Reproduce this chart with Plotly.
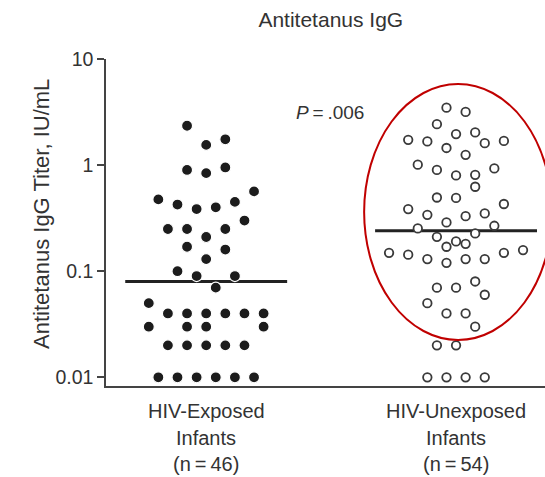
import numpy as np
import plotly.graph_objects as go

# Antitetanus IgG titers (IU/mL) per infant
exposed_titer = [2.35, 1.75, 1.55, 0.95, 0.90, 0.84, 0.565, 0.475, 0.45, 0.425,
                 0.40, 0.385, 0.30, 0.25, 0.25, 0.25, 0.21, 0.17, 0.16, 0.13,
                 0.10, 0.09, 0.09, 0.07, 0.05,
                 0.04, 0.04, 0.04, 0.04, 0.04, 0.04,
                 0.03, 0.03, 0.03, 0.03,
                 0.02, 0.02, 0.02, 0.02, 0.02,
                 0.01, 0.01, 0.01, 0.01, 0.01, 0.01]
unexposed_titer = [3.48, 3.17, 2.43, 2.03, 1.96, 1.73, 1.69, 1.67, 1.61, 1.45,
                   1.25, 1.01, 0.93, 0.90, 0.81, 0.80, 0.625, 0.495, 0.49, 0.43,
                   0.385, 0.35, 0.34, 0.33, 0.288, 0.268, 0.253, 0.227, 0.211, 0.191,
                   0.181, 0.170, 0.158, 0.149, 0.149, 0.143, 0.130, 0.130, 0.130, 0.120,
                   0.080, 0.070, 0.070, 0.060, 0.050, 0.040, 0.040, 0.030,
                   0.020, 0.020,
                   0.010, 0.010, 0.010, 0.010]

# swarm column of each dot (in half-dot steps from the group centre)
exposed_slot = [-2, 2, 0, 2, -2, 0, 5, -5, 3, -3,
                1, -1, 4, -4, -2, 2, 0, -2, 2, 0,
                -3, -1, 3, 1, -6,
                -4, -2, 0, 2, 4, 6,
                -6, -2, 0, 6,
                -4, -2, 0, 2, 4,
                -5, -3, -1, 1, 3, 5]
unexposed_slot = [-1, 1, -2, 2, 0, -5, 5, -3, 3, -1,
                  1, -4, 4, -2, 2, 0, 2, -2, 0, 5,
                  -5, 3, -3, 1, -1, 4, -4, 2, -2, 0,
                  1, -1, 7, -7, 5, -5, -3, 1, 3, -1,
                  2, -2, 0, 3, -3, -1, 1, 2,
                  -2, 0,
                  -3, -1, 1, 3]

group_names = ["HIV-Exposed", "HIV-Unexposed"]
group_sub = ["Infants", "Infants"]
group_n = [46, 54]
y_ticks = [0.01, 0.1, 1, 10]
y_tick_text = ["0.01", "0.1", "1", "10"]
p_value = ".006"

SLOT = 0.0383      # horizontal swarm step (data units)
HALF = 0.324       # half-width of the median bar
INK = "#222222"
TXT = "#333333"
FONT = "Liberation Sans, Arial, Helvetica, sans-serif"

fig = go.Figure()

# median bars, drawn first so the dots sit on top of them
for gi, vals in enumerate([exposed_titer, unexposed_titer]):
    med = float(np.median(vals))
    fig.add_trace(go.Scatter(
        x=[gi - HALF, gi + HALF], y=[med, med], mode="lines",
        line=dict(color=INK, width=3), hoverinfo="skip", showlegend=False))

# HIV-exposed: filled dots
fig.add_trace(go.Scatter(
    x=[0 + s * SLOT for s in exposed_slot], y=exposed_titer, mode="markers",
    marker=dict(size=11, color="#1c1c1c", line=dict(color="white", width=1.2)),
    showlegend=False))

# HIV-unexposed: open circles
fig.add_trace(go.Scatter(
    x=[1 + s * SLOT for s in unexposed_slot], y=unexposed_titer, mode="markers",
    marker=dict(size=8.5, color="white", line=dict(color="#3a3a3a", width=1.8)),
    showlegend=False))

annotations = []
for gi in range(2):
    lines = [group_names[gi], group_sub[gi], f"(n\u2009=\u2009{group_n[gi]})"]
    for li, txt in enumerate(lines):
        annotations.append(dict(
            x=gi, xref="x", y=0, yref="paper", yanchor="middle",
            yshift=-25 - 26.5 * li, text=txt, showarrow=False, borderpad=0,
            font=dict(family=FONT, size=20, color=TXT)))

annotations.append(dict(
    x=0.51, xref="paper", y=0.875, yref="paper", text=f"<i>P</i>\u2009=\u2009{p_value}",
    showarrow=False, font=dict(family=FONT, size=19, color=TXT)))

annotations.append(dict(
    x=-0.179, xref="paper", y=0.526, yref="paper", textangle=-90,
    text="Antitetanus IgG Titer, IU/mL", showarrow=False,
    font=dict(family=FONT, size=22, color=TXT)))

fig.update_layout(
    width=545, height=477,
    margin=dict(l=106, r=0, t=59, b=91),
    paper_bgcolor="white", plot_bgcolor="white",
    title=dict(text="Antitetanus IgG", x=0.607, xanchor="center",
               y=1 - 20 / 477, yanchor="middle", yref="container",
               font=dict(family=FONT, size=21, color=TXT)),
    annotations=annotations,
    shapes=[dict(type="circle", xref="paper", yref="paper",
                 x0=0.588, x1=1.016, y0=0.1407, y1=0.9235,
                 line=dict(color="#c00000", width=2))],
    xaxis=dict(range=[-0.401, 1.356], showline=True, linecolor="#444444",
               linewidth=1.5, showticklabels=False, ticks="", showgrid=False,
               zeroline=False, mirror=False),
    yaxis=dict(type="log", range=[-2.082, 1], showline=True, linecolor="#444444",
               linewidth=1.5, ticks="outside", ticklen=7, tickwidth=1.5,
               tickcolor="#444444", tickvals=y_ticks, ticktext=y_tick_text,
               tickfont=dict(family=FONT, size=19.5, color=TXT),
               showgrid=False, zeroline=False),
)

fig.write_html("out.html")
